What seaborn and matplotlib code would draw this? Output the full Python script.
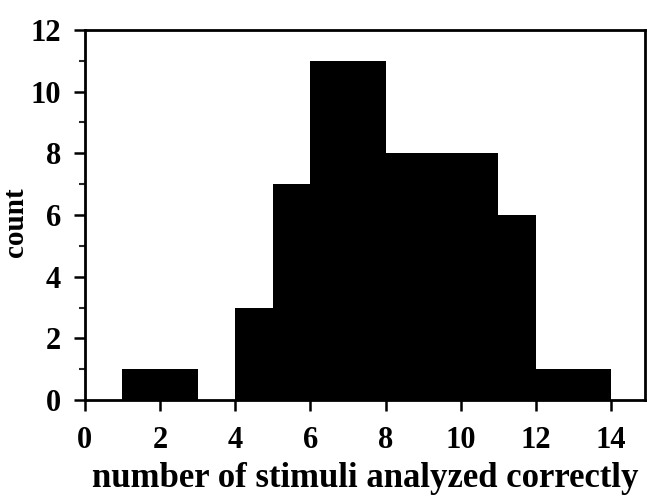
import matplotlib
matplotlib.use("Agg")
import matplotlib.pyplot as plt
import seaborn as sns
import numpy as np

# data: histogram bins (width 1) and counts
bin_edges = [1, 2, 3, 4, 5, 6, 7, 8, 9, 10, 11, 12, 13, 14]
counts = [1, 1, 0, 3, 7, 11, 11, 8, 8, 8, 6, 1, 1]
x_ticks = [0, 2, 4, 6, 8, 10, 12, 14]
y_ticks = [0, 2, 4, 6, 8, 10, 12]

sns.set_theme(style="ticks")
plt.rcParams['font.family'] = ['Liberation Serif', 'DejaVu Serif']
plt.rcParams['font.weight'] = 'bold'

fig = plt.figure(figsize=(6.47, 4.97), dpi=100)
ax = fig.add_axes([0.131, 0.195, 0.866, 0.745])

centers = [(a + b) / 2 for a, b in zip(bin_edges[:-1], bin_edges[1:])]
sns.histplot(x=centers, weights=counts, bins=bin_edges, color="black",
             alpha=1.0, linewidth=0, ax=ax)

ax.set_xlim(0, 14.9)
ax.set_ylim(0, 12)
ax.set_xticks(x_ticks)
ax.set_yticks(y_ticks)
ax.set_yticks([1, 3, 5, 7, 9, 11], minor=True)
ax.tick_params(axis='both', which='major', labelsize=22, width=1.8, length=8,
               direction='out', colors='black')
ax.tick_params(axis='y', which='major', pad=9)
ax.tick_params(axis='y', which='minor', length=4, width=1.5, direction='out')
ax.tick_params(axis='x', which='major', pad=11)
for lab in ax.get_xticklabels() + ax.get_yticklabels():
    lab.set_fontweight('bold')

for s in ax.spines.values():
    s.set_linewidth(2)
    s.set_color('black')

ax.set_xlabel("number of stimuli analyzed correctly", fontsize=25,
              fontweight='bold', labelpad=5, color='black')
ax.set_ylabel("count", fontsize=21, fontweight='bold', color='black')
ax.yaxis.set_label_coords(-0.10, 0.48)

fig.savefig("out.png", dpi=100)
